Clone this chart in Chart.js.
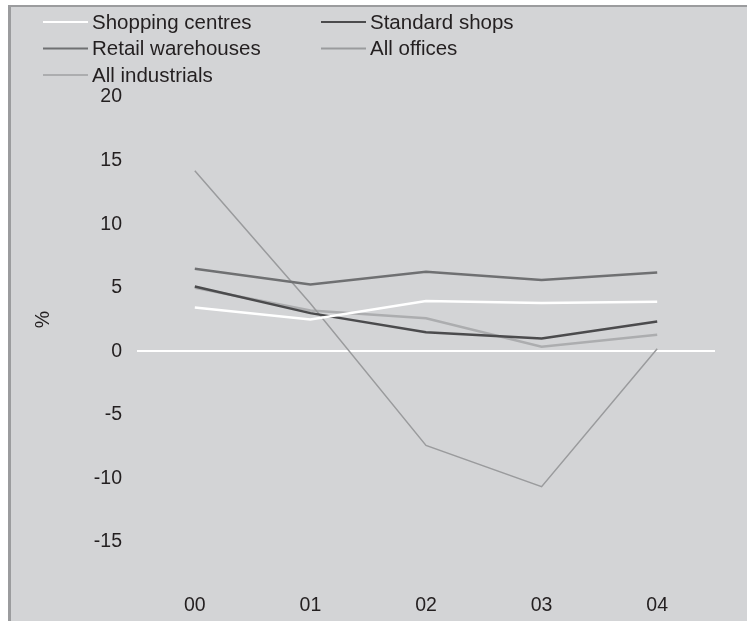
<!DOCTYPE html>
<html>
<head>
<meta charset="utf-8">
<script src="https://cdn.jsdelivr.net/npm/chart.js@4/dist/chart.umd.min.js"></script>
<style>
  body { margin: 0; background: #fff; }
  canvas { display: block; }
</style>
</head>
<body>
<canvas id="chart" width="747" height="621"></canvas>
<script>
const years = ['00', '01', '02', '03', '04'];
const shoppingCentres = [3.45, 2.5, 3.95, 3.8, 3.9];
const standardShops = [5.1, 3.0, 1.5, 1.0, 2.35];
const retailWarehouses = [6.5, 5.25, 6.25, 5.6, 6.2];
const allOffices = [14.2, 3.75, -7.4, -10.65, 0.2];
const allIndustrials = [5.0, 3.2, 2.6, 0.35, 1.3];
const yTicks = [-15, -10, -5, 0, 5, 10, 15, 20];

const FONT = '"Liberation Sans", Arial, sans-serif';

// frame: white margin, grey panel with darker top/left edge
const framePlugin = {
  id: 'frame',
  beforeDraw(chart) {
    const ctx = chart.ctx;
    ctx.save();
    ctx.fillStyle = '#ffffff';
    ctx.fillRect(0, 0, chart.width, chart.height);
    ctx.fillStyle = '#d3d4d6';
    ctx.fillRect(8, 5, chart.width - 8, chart.height - 5);
    ctx.fillStyle = '#9b9c9e';
    ctx.fillRect(8, 5, chart.width - 8, 2);
    ctx.fillRect(8, 5, 3, chart.height - 5);
    ctx.restore();
  }
};

// two-column legend at the top left
const legendPlugin = {
  id: 'gridLegend',
  afterDraw(chart) {
    const ctx = chart.ctx;
    ctx.save();
    ctx.font = '20.5px ' + FONT;
    ctx.textBaseline = 'middle';
    ctx.fillStyle = '#231f20';
    chart.data.datasets.forEach((ds, i) => {
      const x = [43, 321][i % 2];
      const y = 22 + Math.floor(i / 2) * 26.5;
      ctx.strokeStyle = ds.borderColor;
      ctx.lineWidth = 2;
      ctx.beginPath();
      ctx.moveTo(x, y);
      ctx.lineTo(x + 45, y);
      ctx.stroke();
      ctx.fillText(ds.label, x + 49, y + 1);
    });
    ctx.restore();
  }
};

function series(label, data, color, width) {
  return {
    label: label,
    data: data,
    borderColor: color,
    backgroundColor: color,
    borderWidth: width,
    pointRadius: 0,
    tension: 0,
    fill: false
  };
}

new Chart(document.getElementById('chart'), {
  type: 'line',
  data: {
    labels: years,
    datasets: [
      series('Shopping centres', shoppingCentres, '#ffffff', 2.5),
      series('Standard shops', standardShops, '#4b4b4d', 2.5),
      series('Retail warehouses', retailWarehouses, '#6f7072', 2.5),
      series('All offices', allOffices, '#9a9b9d', 1.5),
      series('All industrials', allIndustrials, '#acadaf', 2.5)
    ]
  },
  options: {
    responsive: false,
    animation: false,
    layout: { padding: { top: 97, right: 32, bottom: 0, left: 0 } },
    plugins: {
      legend: { display: false },
      tooltip: { enabled: false }
    },
    scales: {
      x: {
        offset: true,
        grid: { display: false, drawTicks: false },
        border: { display: false },
        ticks: {
          color: '#231f20',
          font: { family: FONT, size: 19.5 },
          padding: 52
        },
        afterFit(scale) { scale.height = 79; }
      },
      y: {
        min: -15,
        max: 20,
        afterBuildTicks(scale) { scale.ticks = yTicks.map(v => ({ value: v })); },
        grid: {
          drawTicks: false,
          lineWidth: 2,
          color: ctx => (ctx.tick && ctx.tick.value === 0 ? '#ffffff' : 'rgba(0,0,0,0)')
        },
        border: { display: false },
        ticks: {
          color: '#231f20',
          font: { family: FONT, size: 19.5 },
          padding: 15
        },
        title: {
          display: true,
          text: '%',
          color: '#231f20',
          font: { family: FONT, size: 19.5 },
          padding: { top: 32, bottom: 0 }
        },
        afterFit(scale) { scale.width = 137; }
      }
    }
  },
  plugins: [framePlugin, legendPlugin]
});
</script>
</body>
</html>
